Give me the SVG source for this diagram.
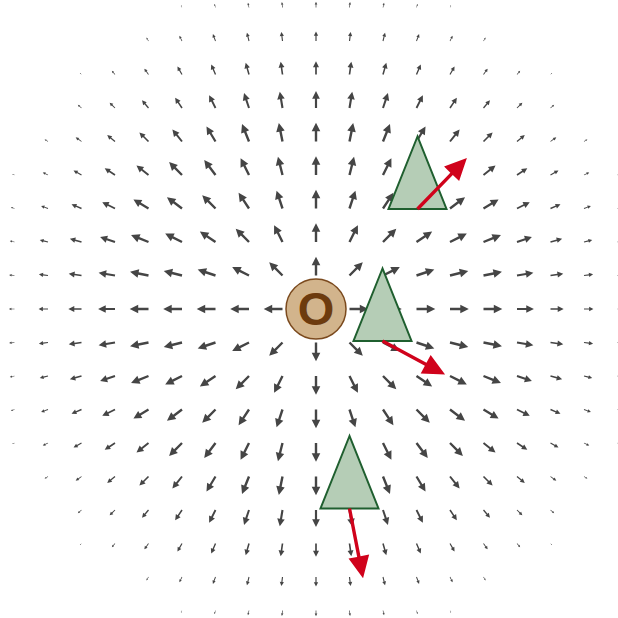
<svg xmlns="http://www.w3.org/2000/svg" width="618" height="618" viewBox="0 0 618 618">
<style>
.fa{fill:#454545}
.tri{fill:#b5cdb6;stroke:#1f5f2f;stroke-width:2;stroke-linejoin:miter}
.force{fill:#d0021b}
.lbl{font-family:"Liberation Sans","DejaVu Sans",Arial,sans-serif;font-weight:bold;font-size:47px;fill:#6d3b0e;text-anchor:middle}
</style>
<defs>
<path id="a" class="fa" d="M0,-1.2H10.3V-4.3L18.8,0L10.3,4.3V1.2H0Z"/>
<path id="ra" class="force" d="M0,-1.7H49V-10.5L71,0L49,10.5V1.7H0Z"/>
<g id="ax">
<use href="#a" transform="translate(33.5,0)"/>
<use href="#a" transform="translate(67,0)"/>
<use href="#a" transform="translate(100.5,0)"/>
<use href="#a" transform="translate(134,0)"/>
<use href="#a" transform="translate(167.5,0)"/>
<use href="#a" transform="translate(201,0) scale(0.9)"/>
<use href="#a" transform="translate(234.5,0) scale(0.7)"/>
<use href="#a" transform="translate(268,0) scale(0.5)"/>
<use href="#a" transform="translate(301.5,0) scale(0.3)"/>
</g>
<g id="dg">
<use href="#a" transform="translate(33.5,33.5) rotate(45)"/>
<use href="#a" transform="translate(67,67) rotate(45)"/>
<use href="#a" transform="translate(100.5,100.5) rotate(45)"/>
<use href="#a" transform="translate(134,134) rotate(45) scale(0.969)"/>
<use href="#a" transform="translate(167.5,167.5) rotate(45) scale(0.686)"/>
<use href="#a" transform="translate(201,201) rotate(45) scale(0.403)"/>
<use href="#a" transform="translate(234.5,234.5) rotate(45) scale(0.12)"/>
</g>
<g id="in">
<use href="#a" transform="translate(67,33.5) rotate(26.565)"/>
<use href="#a" transform="translate(100.5,33.5) rotate(18.435)"/>
<use href="#a" transform="translate(100.5,67) rotate(33.69)"/>
<use href="#a" transform="translate(134,33.5) rotate(14.036)"/>
<use href="#a" transform="translate(134,67) rotate(26.565)"/>
<use href="#a" transform="translate(134,100.5) rotate(36.87)"/>
<use href="#a" transform="translate(167.5,33.5) rotate(11.31)"/>
<use href="#a" transform="translate(167.5,67) rotate(21.801)"/>
<use href="#a" transform="translate(167.5,100.5) rotate(30.964) scale(0.934)"/>
<use href="#a" transform="translate(167.5,134) rotate(38.66) scale(0.819)"/>
<use href="#a" transform="translate(201,33.5) rotate(9.462) scale(0.883)"/>
<use href="#a" transform="translate(201,67) rotate(18.435) scale(0.835)"/>
<use href="#a" transform="translate(201,100.5) rotate(26.565) scale(0.758)"/>
<use href="#a" transform="translate(201,134) rotate(33.69) scale(0.658)"/>
<use href="#a" transform="translate(201,167.5) rotate(39.806) scale(0.538)"/>
<use href="#a" transform="translate(234.5,33.5) rotate(8.13) scale(0.686)"/>
<use href="#a" transform="translate(234.5,67) rotate(15.945) scale(0.644)"/>
<use href="#a" transform="translate(234.5,100.5) rotate(23.199) scale(0.577)"/>
<use href="#a" transform="translate(234.5,134) rotate(29.745) scale(0.488)"/>
<use href="#a" transform="translate(234.5,167.5) rotate(35.538) scale(0.38)"/>
<use href="#a" transform="translate(234.5,201) rotate(40.601) scale(0.256)"/>
<use href="#a" transform="translate(268,33.5) rotate(7.125) scale(0.488)"/>
<use href="#a" transform="translate(268,67) rotate(14.036) scale(0.451)"/>
<use href="#a" transform="translate(268,100.5) rotate(20.556) scale(0.391)"/>
<use href="#a" transform="translate(268,134) rotate(26.565) scale(0.311)"/>
<use href="#a" transform="translate(268,167.5) rotate(32.005) scale(0.213)"/>
<use href="#a" transform="translate(301.5,33.5) rotate(6.34) scale(0.289)"/>
<use href="#a" transform="translate(301.5,67) rotate(12.529) scale(0.256)"/>
<use href="#a" transform="translate(301.5,100.5) rotate(18.435) scale(0.203)"/>
<use href="#a" transform="translate(301.5,134) rotate(23.962) scale(0.13)"/>
</g>
</defs>
<rect width="618" height="618" fill="#ffffff"/>
<g id="field" transform="translate(316,309)">
<use href="#ax"/>
<use href="#ax" transform="rotate(90)"/>
<use href="#ax" transform="rotate(180)"/>
<use href="#ax" transform="rotate(270)"/>
<use href="#dg"/>
<use href="#dg" transform="rotate(90)"/>
<use href="#dg" transform="rotate(180)"/>
<use href="#dg" transform="rotate(270)"/>
<use href="#in"/>
<use href="#in" transform="rotate(90)"/>
<use href="#in" transform="rotate(180)"/>
<use href="#in" transform="rotate(270)"/>
<use href="#in" transform="matrix(0,1,1,0,0,0)"/>
<use href="#in" transform="rotate(90) matrix(0,1,1,0,0,0)"/>
<use href="#in" transform="rotate(180) matrix(0,1,1,0,0,0)"/>
<use href="#in" transform="rotate(270) matrix(0,1,1,0,0,0)"/>
</g>
<g id="origin">
<circle cx="316" cy="309" r="30" fill="#d2b48c" stroke="#7b4a1e" stroke-width="1.5"/>
<text class="lbl" x="316" y="325">O</text>
</g>
<g id="agent1">
<polygon class="tri" points="417.5,136.5 388.5,209 446.5,209"/>
<use href="#ra" transform="translate(417.5,209) rotate(-45.9)"/>
</g>
<g id="agent2">
<polygon class="tri" points="382.5,268.5 353.5,341 411.5,341"/>
<use href="#ra" transform="translate(382.5,341) rotate(28.2)"/>
</g>
<g id="agent3">
<polygon class="tri" points="349.5,436 320.5,508.5 378.5,508.5"/>
<use href="#ra" transform="translate(349.5,508.5) rotate(79)"/>
</g>
</svg>
